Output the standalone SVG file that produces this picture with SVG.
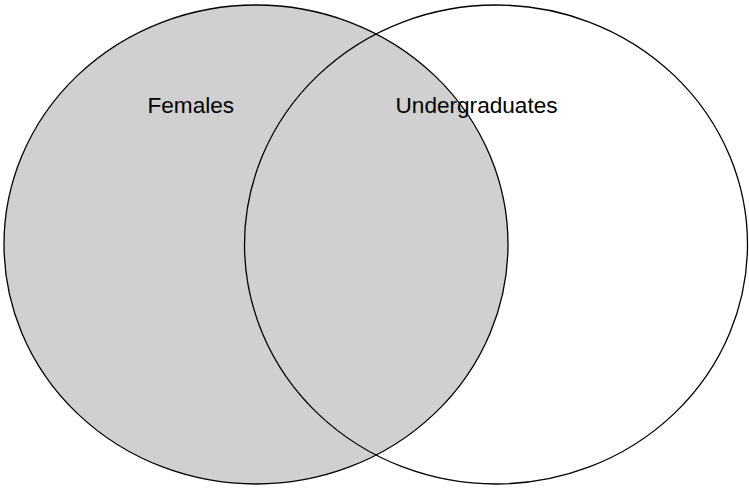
<svg xmlns="http://www.w3.org/2000/svg" width="749" height="489" viewBox="0 0 749 489">
<style>
.set{stroke:#000;stroke-width:1.3}
.lbl{font-family:"Liberation Sans",Arial,Helvetica,sans-serif;font-size:22.6px;fill:#000}
</style>
<rect width="749" height="489" fill="#fff"/>
<g id="females">
<ellipse class="set" cx="256" cy="244.5" rx="252" ry="239.5" fill="#d0d0d0"/>
</g>
<g id="undergraduates">
<ellipse class="set" cx="496" cy="244.5" rx="251.5" ry="239.5" fill="none"/>
</g>
<g id="labels">
<text class="lbl" x="147.5" y="113">Females</text>
<text class="lbl" x="395.5" y="113">Undergraduates</text>
</g>
</svg>
